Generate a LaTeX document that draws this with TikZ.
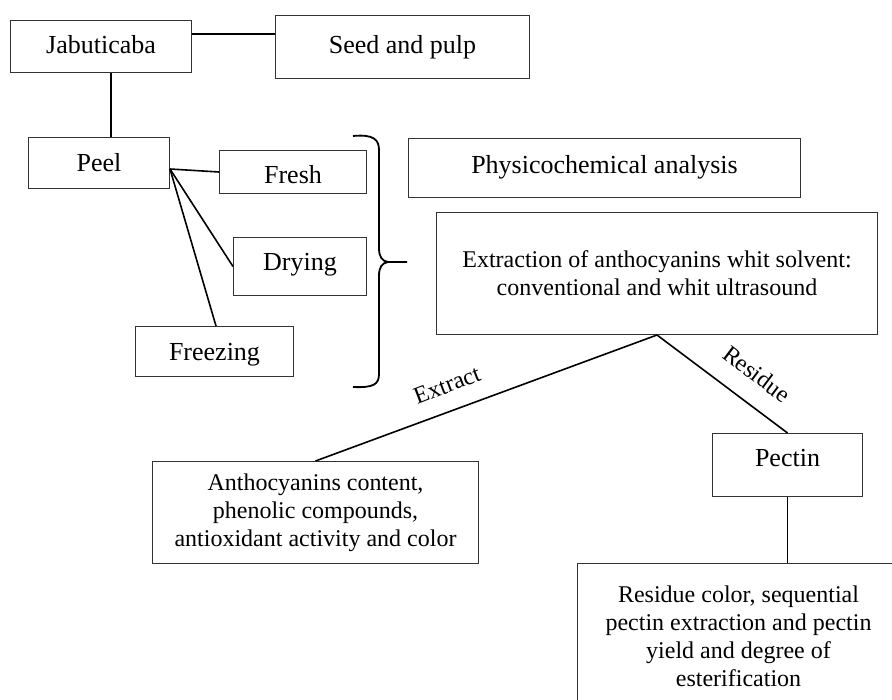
\documentclass[tikz,border=0pt]{standalone}
\usepackage{fontspec}
\setmainfont{Liberation Serif}
\begin{document}
\begin{tikzpicture}[x=1pt,y=-1pt,
  box/.style={draw=black!80, line width=1pt, inner sep=0pt, anchor=north west,
    font=\fontsize{26}{30}\selectfont, align=center},
  mbox/.style={draw=black!80, line width=1pt, inner sep=0pt, anchor=north west,
    font=\fontsize{24}{28}\selectfont, align=center},
  conn/.style={line width=1.6pt, black},
  lbl/.style={font=\fontsize{24}{28}\selectfont, inner sep=0pt}]
\useasboundingbox (0,0) rectangle (892,700);
\clip (0,0) rectangle (892,700);

% boxes
\node[box, minimum width=181pt, text height=33pt, text depth=19pt] (jab) at (10,20) {Jabuticaba};
\node[box, minimum width=254pt, text height=38pt, text depth=25pt] (seed) at (275,15) {Seed and pulp};
\node[box, minimum width=141pt, text height=34pt, text depth=17pt] (peel) at (28,137) {Peel};
\node[box, minimum width=147pt, text height=33pt, text depth=10pt] (fresh) at (219,150) {Fresh};
\node[box, minimum width=133pt, text height=33pt, text depth=25pt] (drying) at (233,237) {Drying};
\node[box, minimum width=158pt, text height=34pt, text depth=16pt] (freezing) at (135,326) {Freezing};
\node[box, minimum width=392pt, text height=35pt, text depth=24pt] (phys) at (408,138) {Physicochemical analysis};
\node[mbox, minimum width=441pt, minimum height=122pt] (extr) at (436,212)
  {Extraction of anthocyanins whit solvent:\\conventional and whit ultrasound};
\node[mbox, minimum width=326pt, minimum height=102pt] (antho) at (152,461)
  {Anthocyanins content,\\phenolic compounds,\\antioxidant activity and color};
\node[box, minimum width=150pt, text height=33pt, text depth=30pt] (pectin) at (712,433) {Pectin};
\node[mbox, minimum width=322pt, minimum height=145pt] (resid) at (577,563)
  {Residue color, sequential\\pectin extraction and pectin\\yield and degree of\\esterification};

% connectors
\draw[conn] (jab.east |- 0,34) -- (seed.west |- 0,34);
\draw[conn] (jab.south -| 111,0) -- (peel.north -| 111,0);
\coordinate (pf) at (peel.east |- 0,169);
\draw[conn] (pf) -- (fresh.west);
\draw[conn] (pf) -- (drying.west);
\draw[conn] (pf) -- (freezing.north -| 216,0);
\draw[conn] (antho.north) -- (extr.south);
\draw[conn] (extr.south) -- (pectin.north);
\draw[conn] (pectin.south) -- (pectin.south |- resid.north);

% brace
\draw[line width=1.8pt] (353,136) .. controls (374,134) and (379,140) .. (379,150)
  -- (379,248) .. controls (379,257) and (382,261) .. (388,262) -- (407,262);
\draw[line width=1.8pt] (388,262) .. controls (382,263) and (379,267) .. (379,276)
  -- (379,374) .. controls (379,384) and (374,388) .. (353,387);

% labels
\node[lbl, rotate=21] (extlbl) at (447,385) {Extract};
\node[lbl, rotate=-37] (reslbl) at (757,374) {Residue};
\end{tikzpicture}
\end{document}
